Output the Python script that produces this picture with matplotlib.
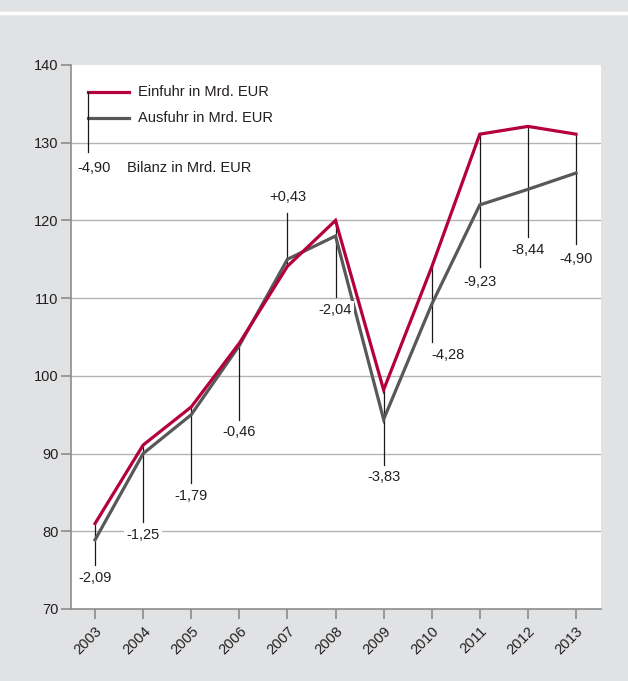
import numpy as np
import matplotlib
matplotlib.use("Agg")
import matplotlib.pyplot as plt

# Einfuhr / Ausfuhr in Mrd. EUR
years = [2003, 2004, 2005, 2006, 2007, 2008, 2009, 2010, 2011, 2012, 2013]
einfuhr = [81.0, 91.1, 96.0, 104.2, 114.1, 120.0, 98.2, 114.0, 131.1, 132.1, 131.1]
ausfuhr = [78.9, 90.0, 95.0, 103.9, 115.0, 118.0, 94.4, 109.2, 122.0, 124.0, 126.1]
bilanz = ["-2,09", "-1,25", "-1,79", "-0,46", "+0,43", "-2,04",
          "-3,83", "-4,28", "-9,23", "-8,44", "-4,90"]
# end of drop line / label position (y value) for each balance label
line_end = [75.6, 81.2, 86.2, 94.3, 121.0, 110.2, 88.5, 104.3, 114.0, 117.9, 117.0]
label_y = [74.0, 79.5, 84.5, 92.8, 123.0, 108.5, 87.0, 102.7, 112.1, 116.2, 115.1]

yticks = [70, 80, 90, 100, 110, 120, 130, 140]

RED = "#b5003f"
GREY = "#58585a"
BG = "#e1e2e4"
TXT = "#231f20"

plt.rcParams['font.family'] = ['Liberation Sans Narrow', 'Liberation Sans', 'DejaVu Sans']
plt.rcParams['font.size'] = 10.5

fig = plt.figure(figsize=(6.28, 6.81), dpi=100)
fig.patch.set_facecolor(BG)
ax = fig.add_axes([71/628, 1-609/681, 530/628, 544/681])
ax.set_facecolor("white")

# white separator line at the top of the figure
fig.add_artist(plt.Line2D([0, 1], [1-13/681, 1-13/681], color="white", lw=2.5,
                          transform=fig.transFigure))

ax.set_xlim(2002.5, 2013.52)
ax.set_ylim(70, 140)

for s in ["top", "right"]:
    ax.spines[s].set_visible(False)
for s in ["left", "bottom"]:
    ax.spines[s].set_color("#8c8c8c")
    ax.spines[s].set_linewidth(1.2)

ax.set_yticks(yticks)
ax.set_xticks(years)
ax.set_xticklabels([str(y) for y in years], rotation=45, ha="right",
                   rotation_mode="anchor")
ax.tick_params(axis="both", colors="#8c8c8c", labelcolor=TXT, length=7,
               width=1.2, labelsize=10.5)
ax.tick_params(axis="x", pad=4)
ax.tick_params(axis="y", pad=2)

for g in yticks[1:-1]:
    ax.axhline(g, color="#b4b4b4", lw=1.0, zorder=1)

# balance drop lines and labels
for i, yr in enumerate(years):
    top = max(einfuhr[i], ausfuhr[i])
    if line_end[i] > top:
        ax.plot([yr, yr], [min(einfuhr[i], ausfuhr[i]), line_end[i]],
                color="#1a1a1a", lw=0.9, zorder=2)
    else:
        ax.plot([yr, yr], [top, line_end[i]], color="#1a1a1a", lw=0.9, zorder=2)
    ha = "left" if yr == 2010 else "center"
    ax.text(yr, label_y[i], bilanz[i], ha=ha, va="center", color=TXT,
            zorder=4, bbox=dict(facecolor="white", edgecolor="none", pad=1.5))

ax.plot(years, ausfuhr, color=GREY, lw=2.3, zorder=3, solid_joinstyle="miter")
ax.plot(years, einfuhr, color=RED, lw=2.3, zorder=3, solid_joinstyle="miter")

# hand drawn legend
ax.plot([2002.85, 2003.71], [136.5, 136.5], color=RED, lw=2.3)
ax.plot([2002.85, 2003.71], [133.2, 133.2], color=GREY, lw=2.3)
ax.plot([2002.85, 2002.85], [136.5, 128.8], color="#1a1a1a", lw=0.9)
ax.text(2003.90, 136.5, "Einfuhr in Mrd. EUR", va="center", color=TXT)
ax.text(2003.90, 133.2, "Ausfuhr in Mrd. EUR", va="center", color=TXT)
ax.text(2002.98, 126.8, "-4,90", ha="center", va="center", color=TXT)
ax.text(2003.66, 126.8, "Bilanz in Mrd. EUR", va="center", color=TXT)

fig.savefig("out.png", dpi=100, facecolor=BG)
